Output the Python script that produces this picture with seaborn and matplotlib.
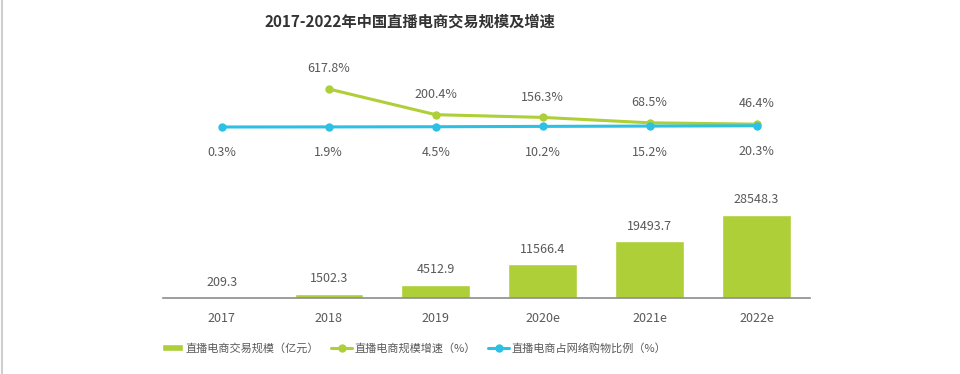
import numpy as np
import matplotlib
matplotlib.use("Agg")
import matplotlib.pyplot as plt
from matplotlib.lines import Line2D
import seaborn as sns

years = ["2017", "2018", "2019", "2020e", "2021e", "2022e"]
gmv = [209.3, 1502.3, 4512.9, 11566.4, 19493.7, 28548.3]
growth_years = ["2018", "2019", "2020e", "2021e", "2022e"]
growth = [617.8, 200.4, 156.3, 68.5, 46.4]
share = [0.3, 1.9, 4.5, 10.2, 15.2, 20.3]

bar_name = "直播电商交易规模（亿元）"
growth_name = "直播电商规模增速（%）"
share_name = "直播电商占网络购物比例（%）"
title = "2017-2022年中国直播电商交易规模及增速"

GREEN = "#aecf37"
BLUE = "#2cc0e4"
TXT = "#595959"

sns.set_theme(style="white")
plt.rcParams["font.family"] = ["Noto Sans CJK SC", "DejaVu Sans"]

fig = plt.figure(figsize=(9.6, 3.74), dpi=100)
W, H = 960, 374


def px_axes(left, top, right, bottom):
    return fig.add_axes([left / W, 1 - bottom / H, (right - left) / W, (bottom - top) / H])


# bars
ax_bar = px_axes(163, 190, 810, 298)
sns.barplot(x=years, y=gmv, color=GREEN, width=0.64, saturation=1,
            label=bar_name, ax=ax_bar)
ax_bar.set_xlim(-0.55, 5.5)
ax_bar.set_ylim(0, 37000)
for i, v in enumerate(gmv):
    ax_bar.annotate(f"{v:.1f}", (i, v), xytext=(0, 6), textcoords="offset points",
                    ha="center", va="bottom", fontsize=9, color=TXT)
sns.despine(ax=ax_bar, left=True, top=True, right=True)
ax_bar.spines["bottom"].set_color("#8c8c8c")
ax_bar.spines["bottom"].set_linewidth(1.2)
ax_bar.set_yticks([])
ax_bar.set_xlabel("")
ax_bar.set_ylabel("")
ax_bar.tick_params(axis="x", length=0, pad=10, labelsize=9, labelcolor=TXT)

# lines
ax_line = px_axes(163, 60, 810, 140)
pos = {y: i for i, y in enumerate(years)}
sns.lineplot(x=[pos[y] for y in growth_years], y=growth, color=GREEN, lw=2.2,
             marker="o", markersize=6, markeredgewidth=0, label=growth_name, ax=ax_line)
sns.lineplot(x=list(range(len(years))), y=share, color=BLUE, lw=2.2,
             marker="o", markersize=6, markeredgewidth=0, label=share_name, ax=ax_line)
ax_line.set_xlim(-0.55, 5.5)
ax_line.set_ylim(-211, 1089)
for y, v in zip(growth_years, growth):
    ax_line.annotate(f"{v}%", (pos[y], v), xytext=(0, 10), textcoords="offset points",
                     ha="center", va="bottom", fontsize=9, color=TXT)
for i, v in enumerate(share):
    ax_line.annotate(f"{v}%", (i, v), xytext=(0, -14), textcoords="offset points",
                     ha="center", va="top", fontsize=9, color=TXT)
ax_line.axis("off")
ax_line.get_legend().remove()

# legend
h1, l1 = ax_bar.get_legend_handles_labels()
h2, l2 = ax_line.get_legend_handles_labels()
if ax_bar.get_legend() is not None:
    ax_bar.get_legend().remove()
fig.legend(h1 + h2, l1 + l2, ncol=3, frameon=False, loc="center left",
           bbox_to_anchor=(152 / W, 1 - 348 / H), fontsize=8, labelcolor=TXT,
           handlelength=1.9, handleheight=0.7, columnspacing=1.1, handletextpad=0.2)

fig.text(410 / W, 1 - 22 / H, title, ha="center", va="center", fontsize=11,
         fontweight="bold", color="#333333")

fig.add_artist(Line2D([1.5 / W, 1.5 / W], [0, 1], color="#cfcfcf", lw=1.5))

fig.savefig("out.png", dpi=100)
